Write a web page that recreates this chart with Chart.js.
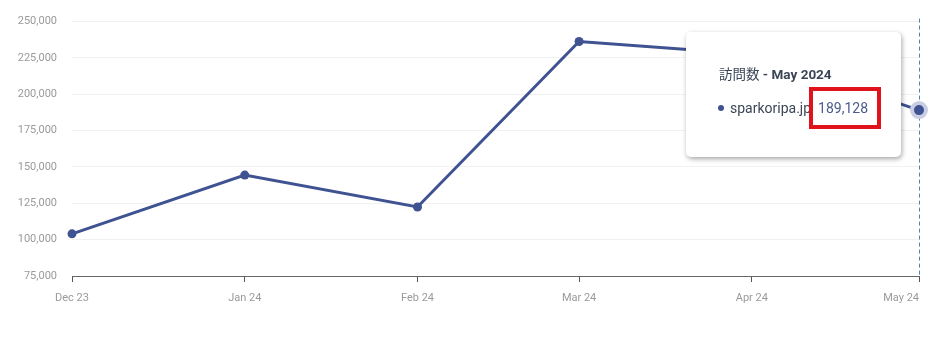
<!DOCTYPE html>
<html>
<head>
<meta charset="utf-8">
<script src="https://cdn.jsdelivr.net/npm/chart.js@4"></script>
<style>
  html, body { margin: 0; padding: 0; background: #fff; }
  #wrap { position: relative; width: 931px; height: 339px; }
  #tip {
    position: absolute; box-sizing: border-box; width: 215px; height: 125px;
    background: #fff; border-radius: 5px;
    box-shadow: 1px 2px 5px rgba(0,0,0,0.35);
    font-family: Roboto, "Noto Sans CJK JP", sans-serif; color: #3b4556;
  }
  #tip .title { position: absolute; left: 33px; top: 31px; font-size: 13.5px; white-space: nowrap; }
  #tip .title b { font-weight: 700; }
  #tip .body { position: absolute; left: 32px; top: 68px; font-size: 14px; white-space: nowrap; }
  #tip .dot { display: inline-block; width: 6px; height: 6px; border-radius: 50%; background: #3f5291; margin-right: 6px; vertical-align: 2px; }
  #tip .val { color: #4a5b8c; margin-left: 7px; }
  #hl { position: absolute; box-sizing: border-box; border: 4px solid #e0131d; width: 72px; height: 42px; }
</style>
</head>
<body>
<div id="wrap">
  <canvas id="c" width="931" height="339"></canvas>
  <div id="tip">
    <div class="title">訪問数 <b>- May 2024</b></div>
    <div class="body"><span class="dot"></span>sparkoripa.jp<span class="val">189,128</span></div>
    <div id="hl"></div>
  </div>
</div>
<script>
const months = ['2023-12-01', '2024-01-01', '2024-02-01', '2024-03-01', '2024-04-01', '2024-05-01'];
const tickLabels = ['Dec 23', 'Jan 24', 'Feb 24', 'Mar 24', 'Apr 24', 'May 24'];
const visits = [104000, 144400, 122500, 236300, 227600, 189128];
const seriesName = 'sparkoripa.jp';
const yTicks = [75000, 100000, 125000, 150000, 175000, 200000, 225000, 250000];

const DAY = 86400000;
const dayNums = months.map(d => Math.round(Date.parse(d + 'T00:00:00Z') / DAY));
const points = dayNums.map((x, i) => ({ x: x, y: visits[i] }));
const last = points.length - 1;
const lineColor = '#3f5291';
const tickFont = '11px Roboto';
const tickColor = '#9a9a9a';

const hoverPlugin = {
  id: 'hoverPlugin',
  beforeDatasetsDraw(chart) {
    const ctx = chart.ctx;
    const xs = chart.scales.x;
    const x = Math.round(xs.getPixelForValue(points[last].x)) + 0.5;
    ctx.save();
    ctx.strokeStyle = '#5a80ab';
    ctx.lineWidth = 1;
    ctx.setLineDash([4, 3]);
    ctx.beginPath();
    ctx.moveTo(x, chart.chartArea.top - 3);
    ctx.lineTo(x, chart.chartArea.bottom);
    ctx.stroke();
    ctx.restore();
  },
  afterDraw(chart) {
    // last tick label is right-aligned to its tick (as in the reference)
    const ctx = chart.ctx;
    const xs = chart.scales.x;
    const x = xs.getPixelForValue(dayNums[last]);
    ctx.save();
    ctx.font = tickFont;
    ctx.fillStyle = tickColor;
    ctx.textAlign = 'right';
    ctx.textBaseline = 'middle';
    ctx.fillText(tickLabels[last], x, chart.chartArea.bottom + 22);
    ctx.restore();
  },
  afterRender(chart) {
    const meta = chart.getDatasetMeta(0);
    const p = meta.data[last];
    const tip = document.getElementById('tip');
    tip.style.left = (p.x - 233) + 'px';
    tip.style.top = (p.y - 78) + 'px';
    const hl = document.getElementById('hl');
    hl.style.left = '123px';
    hl.style.top = '55px';
  }
};

new Chart(document.getElementById('c'), {
  type: 'line',
  data: {
    datasets: [{
      label: seriesName,
      data: points,
      clip: false,
      borderColor: lineColor,
      backgroundColor: lineColor,
      borderWidth: 3,
      tension: 0,
      pointRadius: ctx => ctx.dataIndex === last ? 7 : 4.5,
      pointBorderWidth: ctx => ctx.dataIndex === last ? 4 : 0,
      pointBorderColor: ctx => ctx.dataIndex === last ? '#c9cee2' : lineColor,
      pointBackgroundColor: lineColor
    }]
  },
  options: {
    responsive: false,
    animation: false,
    events: [],
    layout: { padding: { left: 0, right: 12, top: 14, bottom: 0 } },
    plugins: { legend: { display: false }, tooltip: { enabled: false } },
    scales: {
      x: {
        type: 'linear',
        min: dayNums[0],
        max: dayNums[last],
        afterBuildTicks: s => { s.ticks = dayNums.map(v => ({ value: v })); },
        afterFit: s => { s.height = 63; s.paddingRight = 0; },
        ticks: {
          autoSkip: false,
          maxRotation: 0,
          padding: 10,
          color: tickColor,
          font: { family: 'Roboto', size: 11 },
          callback: (v) => { const i = dayNums.indexOf(v); return (i >= 0 && i < last) ? tickLabels[i] : ''; }
        },
        grid: { drawOnChartArea: false, drawTicks: true, tickLength: 6, color: '#555', lineWidth: 1 },
        border: { display: true, color: '#666', width: 1 }
      },
      y: {
        min: yTicks[0],
        max: yTicks[yTicks.length - 1],
        afterBuildTicks: s => { s.ticks = yTicks.map(v => ({ value: v })); },
        afterFit: s => { s.width = 72; },
        ticks: {
          padding: 15,
          color: tickColor,
          font: { family: 'Roboto', size: 11 },
          callback: v => v.toLocaleString('en-US')
        },
        grid: { color: '#f1f1f1', drawTicks: false, lineWidth: 1 },
        border: { display: false }
      }
    }
  },
  plugins: [hoverPlugin]
});
</script>
</body>
</html>
